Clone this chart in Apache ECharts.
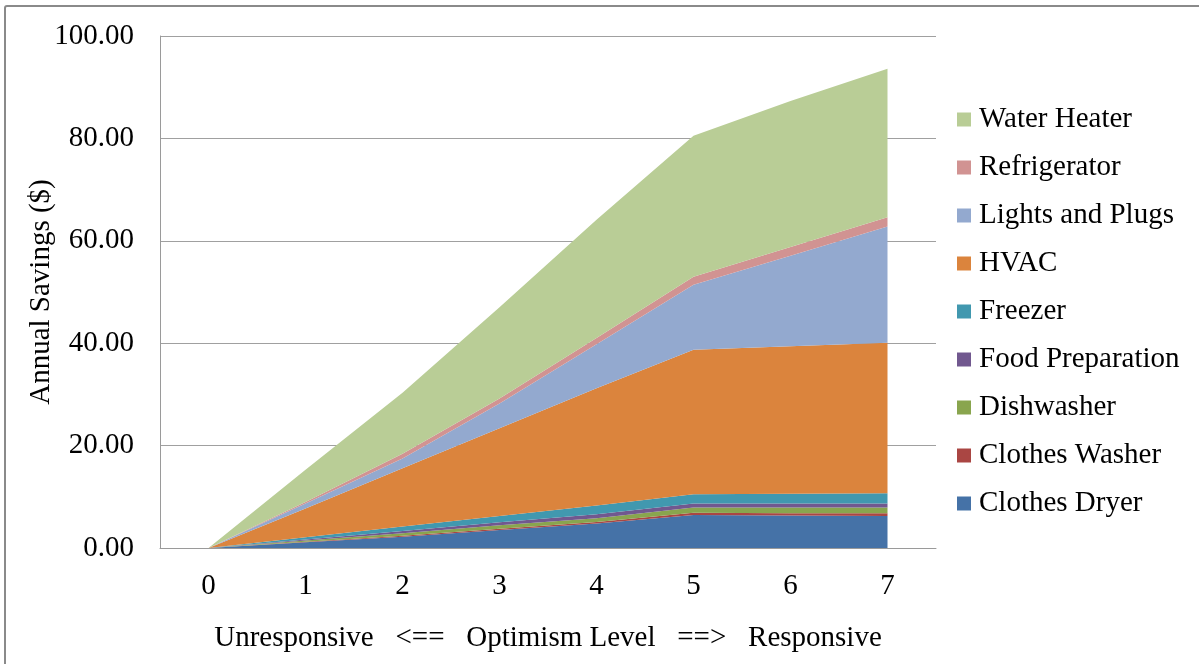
<!DOCTYPE html>
<html>
<head>
<meta charset="utf-8">
<script src="https://cdn.jsdelivr.net/npm/echarts@6/dist/echarts.min.js"></script>
<style>
  html, body { margin: 0; padding: 0; background: #fff; overflow: hidden; }
  #chart { position: absolute; left: 0; top: 0; width: 1199px; height: 664px; }
  #frame { position: absolute; left: 4px; top: 5px; width: 1300px; height: 700px; border: 2px solid #8a8a8a; border-radius: 3px; pointer-events: none; }
</style>
</head>
<body>
<div id="chart"></div>
<div id="frame"></div>
<script>
const categories = ['0', '1', '2', '3', '4', '5', '6', '7'];
const clothesDryer   = [0, 1.1, 2.2, 3.5, 4.8, 6.45, 6.35, 6.25];
const clothesWasher  = [0, 0.1, 0.2, 0.25, 0.3, 0.45, 0.45, 0.55];
const dishwasher     = [0, 0.25, 0.5, 0.7, 0.7, 1.0, 1.1, 1.1];
const foodPreparation= [0, 0.2, 0.4, 0.6, 0.8, 0.8, 0.8, 0.8];
const freezer        = [0, 0.45, 0.9, 1.2, 1.7, 1.8, 1.9, 2.0];
const hvac           = [0, 5.6, 11.4, 17.15, 22.9, 28.2, 28.8, 29.4];
const lightsAndPlugs = [0, 1.0, 1.9, 4.8, 8.6, 12.7, 17.7, 22.7];
const refrigerator   = [0, 0.3, 0.9, 1.0, 1.2, 1.6, 1.7, 1.8];
const waterHeater    = [0, 6.3, 11.9, 17.8, 23.1, 27.5, 28.5, 29.0];

const seriesNames = ['Clothes Dryer', 'Clothes Washer', 'Dishwasher', 'Food Preparation', 'Freezer', 'HVAC', 'Lights and Plugs', 'Refrigerator', 'Water Heater'];
const seriesData = [clothesDryer, clothesWasher, dishwasher, foodPreparation, freezer, hvac, lightsAndPlugs, refrigerator, waterHeater];
const colors = ['#4572A7', '#AA4643', '#89A54E', '#71588F', '#4198AF', '#DB843D', '#93A9CF', '#D19392', '#B9CD96'];

const FONT = '"Liberation Serif", "Times New Roman", serif';
const FS = 29;

const chart = echarts.init(document.getElementById('chart'), null, { renderer: 'canvas' });
chart.setOption({
  animation: false,
  color: colors,
  grid: { left: 160, right: 263, top: 36, bottom: 116, containLabel: false },
  legend: {
    orient: 'vertical',
    left: 957,
    top: 105,
    padding: 0,
    itemGap: 19,
    itemWidth: 14,
    itemHeight: 14,
    icon: 'rect',
    data: seriesNames.slice().reverse(),
    textStyle: { fontFamily: FONT, fontSize: FS, color: '#000', lineHeight: 29, padding: [0, 0, 0, 3] }
  },
  xAxis: {
    type: 'category',
    data: categories,
    boundaryGap: true,
    name: 'Unresponsive\u00a0\u00a0\u00a0<==\u00a0\u00a0\u00a0Optimism Level\u00a0\u00a0\u00a0==>\u00a0\u00a0\u00a0Responsive',
    nameLocation: 'middle',
    nameGap: 76,
    nameMoveOverlap: false,
    nameTextStyle: { fontFamily: FONT, fontSize: FS, color: '#000' },
    axisLine: { lineStyle: { color: '#9a9a9a', width: 1 } },
    axisTick: { show: false },
    axisLabel: { fontFamily: FONT, fontSize: FS, color: '#000', margin: 24 }
  },
  yAxis: {
    type: 'value',
    min: 0,
    max: 100,
    interval: 20,
    name: 'Annual Savings ($)',
    nameLocation: 'middle',
    nameGap: 104,
    nameMoveOverlap: false,
    nameTextStyle: { fontFamily: FONT, fontSize: FS, color: '#000' },
    axisLine: { show: true, lineStyle: { color: '#9a9a9a', width: 1 } },
    axisTick: { show: false },
    splitLine: { lineStyle: { color: '#a0a0a0', width: 1 } },
    axisLabel: {
      fontFamily: FONT, fontSize: FS, color: '#000', margin: 26,
      formatter: v => v.toFixed(2)
    }
  },
  series: seriesNames.map((name, i) => ({
    name: name,
    type: 'line',
    stack: 'total',
    data: seriesData[i],
    symbol: 'none',
    showSymbol: false,
    lineStyle: { width: 0 },
    areaStyle: { opacity: 1, color: colors[i] },
    emphasis: { disabled: true }
  }))
});
</script>
</body>
</html>
